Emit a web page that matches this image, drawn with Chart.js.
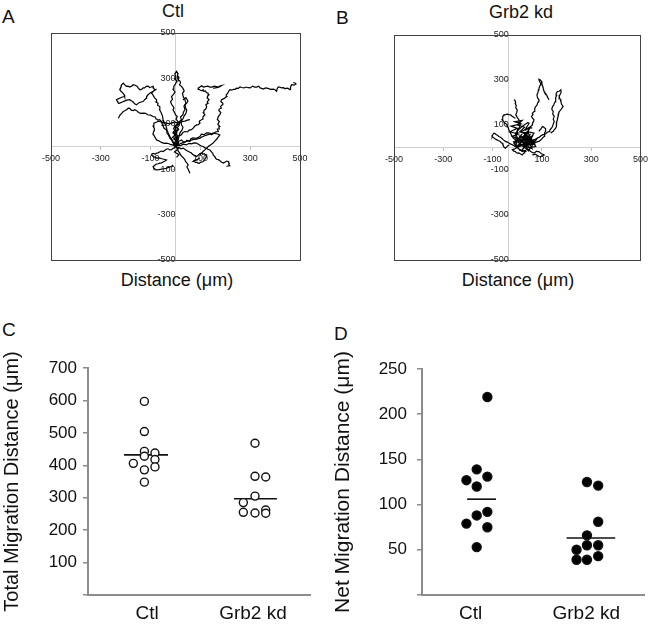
<!DOCTYPE html>
<html>
<head>
<meta charset="utf-8">
<script src="https://cdn.jsdelivr.net/npm/chart.js@4.4.1/dist/chart.umd.min.js"></script>
<style>
  body { margin: 0; width: 650px; height: 625px; overflow: hidden; background: #fff; position: relative;
         font-family: 'Liberation Sans', Arial, sans-serif; color: #111; }
  canvas { position: absolute; }
  .t { position: absolute; line-height: 1; white-space: nowrap; }
  .c { text-align: center; }
</style>
</head>
<body>
<div class="t" style="left:2px;top:7px;font-size:19px">A</div>
<div class="t c" style="left:123px;width:100px;top:2px;font-size:18px">Ctl</div>
<div class="t" style="left:336px;top:8px;font-size:19px">B</div>
<div class="t c" style="left:471px;width:100px;top:3px;font-size:18px">Grb2 kd</div>
<div class="t c" style="left:97px;width:160px;top:271px;font-size:18px">Distance (μm)</div>
<div class="t c" style="left:438px;width:160px;top:271px;font-size:18px">Distance (μm)</div>
<div class="t" style="left:2px;top:320px;font-size:19px">C</div>
<div class="t" style="left:334px;top:324px;font-size:19px">D</div>

<canvas id="chartA" width="289" height="267" style="left:31px;top:13px"></canvas>
<canvas id="chartB" width="278" height="265" style="left:374px;top:15px"></canvas>
<canvas id="chartC" width="325" height="305" style="left:0;top:320px"></canvas>
<canvas id="chartD" width="325" height="305" style="left:325px;top:320px"></canvas>

<script>
// ---- A: Ctl cell tracks (x, y in um) ----
const ctlTrack1 = [[0,0],[5,12],[14,10],[12,22],[24,29],[30,22],[40,20],[46,28],[58,22],[62,34],[70,38],[84,36],[98,44],[104,54],[115,52],[124,60],[138,59],[144,52],[150,55],[160,64],[172,66],[168,76],[176,78],[174,86],[178,88],[170,98],[176,110],[168,120],[172,132],[178,140],[182,150],[174,158],[176,165],[184,170],[181,176],[188,184],[190,190],[182,198],[185,206],[196,212],[205,220],[204,228],[210,235],[214,244],[218,250],[226,248],[232,252],[240,252],[245,257],[252,256],[259,262],[266,260],[275,258],[283,262],[292,259],[300,258],[310,266],[318,262],[326,262],[334,266],[340,258],[346,256],[352,253],[362,258],[372,256],[382,252],[393,253],[400,250],[406,243],[408,254],[412,262],[419,262],[426,258],[434,259],[440,254],[446,257],[452,256],[460,250],[462,262],[466,272],[476,270],[484,276],[480,280],[473,282]];
const ctlTrack2 = [[0,0],[8,10],[2,20],[10,30],[6,44],[16,48],[24,52],[30,62],[38,66],[48,64],[55,72],[64,74],[71,81],[78,90],[85,95],[92,96],[98,103],[96,112],[108,120],[110,130],[118,140],[112,148],[114,158],[122,166],[125,176],[122,184],[130,190],[128,198],[135,206],[130,212],[128,220],[134,228],[131,235],[124,238],[120,245],[114,244],[111,250],[104,246],[100,248],[94,252],[91,257],[98,262],[105,268],[112,262],[120,264],[130,266],[138,262],[146,262],[155,266],[164,264],[172,262],[178,266],[185,268],[176,262],[170,260],[160,258],[151,257]];
const ctlTrack3 = [[0,0],[-6,10],[-2,20],[6,30],[4,44],[-4,52],[-8,66],[2,74],[-3,88],[6,96],[10,110],[2,120],[7,132],[0,140],[-4,150],[-10,162],[-6,170],[-9,176],[-16,186],[-20,198],[-12,208],[-16,220],[-8,230],[-2,240],[-10,252],[-7,265],[0,276],[5,288],[-2,298],[1,309],[-3,320],[4,331],[10,322],[8,312],[14,304],[11,294],[18,288],[20,280],[16,272],[24,265],[30,256],[35,245],[28,234],[31,220],[38,206],[42,190],[34,178],[38,162],[32,152],[30,140],[20,130],[24,118],[14,108],[16,95],[8,84],[11,73],[2,62],[-2,50],[6,40],[4,29],[-4,16],[2,6]];
const ctlTrack4 = [[0,0],[-8,12],[-16,29],[-22,36],[-28,50],[-34,58],[-36,73],[-46,80],[-52,95],[-56,108],[-63,118],[-70,116],[-78,122],[-82,130],[-90,132],[-100,138],[-112,140],[-120,146],[-130,147],[-140,146],[-148,150],[-156,158],[-163,162],[-170,158],[-178,160],[-184,168],[-190,169],[-196,162],[-200,160],[-206,156],[-210,154],[-216,146],[-222,140],[-226,132],[-230,125]];
const ctlTrack5 = [[0,0],[-6,14],[-14,30],[-22,42],[-29,59],[-34,72],[-38,90],[-44,104],[-50,118],[-52,134],[-58,150],[-64,162],[-63,176],[-72,182],[-70,190],[-78,196],[-76,206],[-84,214],[-88,222],[-92,230],[-96,235],[-90,242],[-84,250],[-88,258],[-90,265],[-98,262],[-104,260],[-110,266],[-117,265],[-124,258],[-130,258],[-136,252],[-143,250],[-150,258],[-155,266],[-162,270],[-170,272],[-176,266],[-185,262],[-190,266],[-197,265],[-204,272],[-210,279],[-216,272],[-218,265],[-222,256],[-224,250],[-218,242],[-212,236],[-206,228],[-204,220],[-214,218],[-222,214],[-230,210],[-237,206],[-234,200],[-232,196],[-228,190],[-224,191],[-214,196],[-205,200],[-196,204],[-184,206],[-176,200],[-170,196],[-164,188],[-157,184],[-150,190],[-145,194],[-138,196],[-130,198],[-124,206],[-118,212],[-116,220],[-110,228],[-102,236],[-95,240],[-86,246],[-76,253]];
const ctlTrack6 = [[0,0],[-4,-6],[-10,-8],[-16,-14],[-23,-15],[-30,-10],[-38,-12],[-44,-18],[-50,-22],[-58,-20],[-64,-24],[-70,-28],[-76,-29],[-82,-34],[-88,-30],[-94,-32],[-96,-37],[-92,-42],[-86,-46],[-80,-48],[-76,-51],[-66,-50],[-55,-54],[-46,-56],[-36,-59],[-42,-64],[-50,-68],[-56,-72],[-63,-73],[-70,-76],[-78,-78],[-84,-84],[-90,-88],[-88,-94],[-84,-98],[-80,-102],[-76,-103],[-66,-102],[-56,-100],[-46,-98],[-36,-96],[-28,-92],[-22,-90],[-14,-86],[-9,-81]];
const ctlTrack7 = [[0,0],[6,-6],[8,-14],[12,-22],[17,-29],[20,-36],[24,-42],[32,-50],[38,-59],[40,-66],[44,-70],[48,-76],[51,-81],[46,-90],[50,-98],[54,-108],[58,-118]];
const ctlTrack8 = [[0,0],[10,6],[20,4],[32,10],[44,7],[54,14],[64,12],[74,16],[84,15],[92,10],[98,6],[104,2],[111,0],[118,-6],[125,-8],[130,-12],[138,-15],[142,-20],[146,-26],[150,-30],[151,-37],[156,-42],[158,-46],[162,-52],[165,-56],[172,-58],[178,-62],[184,-68],[192,-73],[196,-70],[200,-68],[206,-64],[212,-66],[214,-72],[216,-76],[214,-80],[218,-85],[210,-86],[205,-88]];
const ctlTrack9 = [[0,0],[6,-6],[14,-4],[22,-10],[31,-7],[40,-14],[48,-20],[56,-24],[64,-29],[68,-34],[74,-38],[80,-42],[84,-44],[90,-40],[95,-34],[100,-30],[105,-29],[110,-34],[116,-32],[120,-36],[125,-37],[124,-46],[120,-52],[116,-60],[111,-66],[106,-68],[100,-70],[96,-74],[91,-73],[86,-70],[80,-70],[76,-66],[71,-66],[78,-60],[86,-58],[92,-54],[98,-51]];
const ctlTrack10 = [[0,0],[-8,6],[-18,8],[-26,12],[-36,15],[-46,14],[-56,18],[-66,24],[-76,29],[-80,36],[-84,44],[-88,52],[-90,59],[-86,70],[-85,80],[-90,90],[-87,103],[-80,106],[-75,108],[-70,112],[-63,110],[-52,106],[-42,104],[-32,102],[-23,100],[-14,104],[-4,108],[6,104],[17,106],[28,110],[38,112],[48,116],[58,118]];
const ctlTrack11 = [[0,0],[12,8],[22,14],[34,18],[44,22],[56,26],[70,30],[84,32],[98,37],[110,44],[124,50],[138,54],[151,59],[158,58],[165,56],[172,54],[178,51],[172,42],[165,32],[158,24],[151,15],[142,8],[134,2],[126,-6],[118,-15],[112,-20],[108,-26],[102,-32],[98,-37]];
const ctlTrack12 = [[0,0],[4,14],[10,30],[14,44],[18,60],[26,72],[30,85],[24,96],[22,110],[30,122],[35,135],[42,146],[45,160],[40,172],[38,185],[46,192],[50,200],[46,208],[42,215],[36,210],[30,205]];
const ctlTrack13 = [[0,0],[10,20],[-6,32],[8,50],[-10,60],[12,76],[-4,90],[14,100],[-8,80],[6,60],[-12,40],[10,24],[-6,8],[12,-10],[-4,-24],[14,-36],[4,-48]];

// ---- B: Grb2 kd cell tracks ----
const kdTrack1 = [[0,0],[6,10],[10,20],[16,26],[20,34],[24,42],[28,50],[30,58],[34,64],[42,70],[46,78],[50,86],[54,93],[60,100],[62,108],[66,116],[68,123],[62,130],[58,138],[64,146],[61,152],[68,160],[70,166],[72,174],[75,182],[80,188],[82,196],[86,204],[88,212],[82,222],[80,234],[84,244],[86,256],[88,262],[90,270],[94,278],[95,286],[90,294],[88,303],[94,300],[99,293],[100,282],[104,270],[106,260],[109,249],[112,242],[116,238],[120,232],[122,226],[126,218],[129,212]];
const kdTrack2 = [[0,0],[8,6],[18,10],[26,16],[34,19],[44,24],[55,26],[64,32],[75,34],[82,42],[90,46],[96,52],[102,56],[110,58],[116,62],[122,68],[129,71],[132,78],[136,82],[140,88],[143,93],[146,104],[150,116],[146,126],[150,138],[144,148],[146,160],[140,170],[143,182],[148,188],[150,196],[154,204],[156,212],[156,222],[160,232],[158,240],[163,249],[170,250],[177,256],[178,248],[176,240],[172,232],[170,226],[174,214],[177,204],[180,192],[186,182],[182,176],[178,170],[174,164],[170,160],[168,150],[166,140],[164,132],[163,123],[160,114],[160,104],[158,94],[156,86],[150,78],[146,72],[140,68],[136,64]];
const kdTrack3 = [[0,0],[6,8],[10,16],[4,24],[7,34],[0,44],[-4,56],[2,66],[0,78],[8,88],[12,100],[6,110],[7,123],[0,134],[-6,146],[-2,156],[0,167],[-6,176],[-4,186],[-8,196],[-7,204],[-10,210],[-14,212]];
const kdTrack4 = [[0,0],[-6,10],[-12,18],[-8,26],[-7,34],[-14,40],[-20,48],[-24,56],[-27,64],[-32,72],[-35,82],[-38,92],[-41,101],[-46,106],[-52,110],[-56,118],[-61,123],[-58,130],[-60,138],[-56,142],[-54,145],[-48,146],[-40,148],[-34,146],[-27,145],[-22,140],[-16,136],[-12,132],[-7,130]];
const kdTrack5 = [[0,0],[-10,6],[-20,12],[-28,16],[-34,20],[-40,24],[-48,27],[-56,34],[-62,40],[-68,46],[-75,49],[-80,54],[-86,58],[-90,62],[-95,64],[-100,56],[-102,49],[-96,44],[-92,40],[-86,36],[-82,34],[-76,30],[-70,28],[-66,22],[-61,19],[-58,12],[-56,6],[-52,0],[-48,-3],[-44,2],[-40,6],[-36,10],[-34,12]];
const kdTrack6 = [[0,0],[6,-6],[10,-12],[16,-14],[20,-18],[28,-14],[34,-12],[40,-8],[48,-10],[52,-16],[58,-20],[62,-22],[68,-25],[74,-20],[78,-16],[82,-18],[88,-18],[94,-24],[98,-28],[104,-30],[109,-33],[104,-36],[98,-38],[94,-42],[88,-40],[80,-34],[74,-30],[68,-32],[61,-33]];
const kdTrack7 = [[0,0],[8,6],[16,8],[26,4],[34,4],[40,10],[48,14],[54,16],[61,19],[68,18],[75,22],[82,26],[88,27],[94,32],[100,38],[104,44],[109,49],[110,56],[112,64],[114,72],[116,78],[114,84],[110,88],[106,92],[102,93],[98,86],[94,80],[90,76],[88,71]];
const kdTrack8 = [[0,0],[27,41],[48,12],[14,27],[61,49],[34,-3],[75,4],[41,71],[68,64],[20,-10],[55,30],[10,50],[45,-15],[80,40],[25,15],[60,-5],[30,60],[70,25],[5,10],[50,55],[35,20]];
const kdTrack9 = [[0,0],[-4,30],[-7,64],[0,72],[6,80],[14,88],[20,93],[28,100],[34,104],[42,110],[48,108],[44,100],[40,94],[36,86],[34,78],[40,82],[48,84],[54,88],[61,86]];
const kdTrack10 = [[0,0],[-10,-6],[-20,-10],[-14,-16],[-8,-18],[-4,-22],[0,-25],[6,-24],[12,-28],[16,-30],[20,-33],[24,-28],[28,-24],[30,-20],[34,-18],[26,-14],[20,-12],[14,-10],[7,-7]];
const kdTrack11 = [[0,0],[30,20],[5,40],[40,55],[15,70],[50,90],[25,10],[70,15],[45,45],[-10,20],[20,60]];
const kdTrack12 = [[0,0],[-15,25],[10,35],[-20,50],[5,60],[-30,70],[0,85],[-25,95],[15,105],[-10,115],[20,120],[0,100],[30,90],[10,70],[40,65],[20,45],[50,40],[30,20]];

// ---- C / D: per-cell distances ----
const groups = ['Ctl', 'Grb2 kd'];
// x = group position (1 or 2) with the small side offset seen in the plot
const ctlTotalX = [0.975, 0.975, 0.975, 1.075, 0.975, 0.871, 1.075, 0.975, 1.075, 0.975];
const ctlTotal  = [597, 504, 443, 438, 428, 406, 418, 386, 395, 348];
const kdTotalX  = [2.019, 2.019, 2.12, 2.019, 1.909, 1.909, 2.019, 2.12, 2.12];
const kdTotal   = [468, 366, 364, 305, 285, 255, 253, 262, 252];
const totalMeans = [432, 297];

const ctlNetX = [1.145, 1.053, 0.964, 1.145, 1.053, 1.145, 1.053, 0.964, 1.145, 1.053];
const ctlNet  = [219, 139, 127, 131, 120, 92, 88, 79, 75, 53];
const kdNetX  = [2.006, 2.103, 2.103, 2.006, 1.916, 2.006, 2.103, 1.916, 2.006, 2.103];
const kdNet   = [125, 121, 81, 66, 50, 55, 55, 39, 39, 43];
const netMeans = [106, 63];

Chart.defaults.font.family = "'Liberation Sans', Arial, sans-serif";
Chart.defaults.color = '#111';

const boxPlugin = {
  id: 'box',
  afterDraw(chart) {
    const { ctx, chartArea: a } = chart;
    ctx.save();
    ctx.strokeStyle = '#444';
    ctx.lineWidth = 1;
    ctx.strokeRect(Math.round(a.left) + 0.5, Math.round(a.top) + 0.5, Math.round(a.width), Math.round(a.height));
    ctx.restore();
  }
};

const pts = arr => arr.map(([x, y]) => ({ x, y }));

function trackChart(id, tracks, yCross, pad) {
  new Chart(document.getElementById(id), {
    type: 'scatter',
    data: {
      datasets: tracks.map(t => ({
        data: pts(t), showLine: true, pointRadius: 0,
        borderColor: '#000', borderWidth: 1.2, tension: 0
      }))
    },
    options: {
      responsive: false, animation: false, events: [],
      layout: { padding: pad },
      plugins: { legend: { display: false }, tooltip: { enabled: false } },
      scales: {
        x: {
          type: 'linear', position: { y: 0 }, min: -500, max: 500,
          ticks: { stepSize: 200, font: { size: 9 }, color: '#222', padding: 4, maxRotation: 0, autoSkip: false },
          grid: { drawOnChartArea: false, tickLength: 3, color: '#bbb' },
          border: { color: '#cfcfcf' }
        },
        y: {
          type: 'linear', position: { x: yCross }, min: -500, max: 500,
          ticks: { stepSize: 200, font: { size: 9 }, color: '#222', padding: 3, autoSkip: false },
          grid: { drawOnChartArea: false, tickLength: 3, color: '#bbb' },
          border: { color: '#cfcfcf' }
        }
      }
    },
    plugins: [boxPlugin]
  });
}

trackChart('chartA',
  [ctlTrack1, ctlTrack2, ctlTrack3, ctlTrack4, ctlTrack5, ctlTrack6, ctlTrack7, ctlTrack8, ctlTrack9, ctlTrack10, ctlTrack11, ctlTrack12, ctlTrack13],
  0, { left: 20, right: 20, top: 20, bottom: 20 });
trackChart('chartB',
  [kdTrack1, kdTrack2, kdTrack3, kdTrack4, kdTrack5, kdTrack6, kdTrack7, kdTrack8, kdTrack9, kdTrack10, kdTrack11, kdTrack12],
  -34, { left: 20, right: 10, top: 20, bottom: 20 });

const axisGray = '#8c8c8c';

function dotChart(id, cfg) {
  const xy = (xs, ys) => xs.map((x, i) => ({ x, y: ys[i] }));
  const meanLine = (m, from, to) => ({
    data: [{ x: from, y: m }, { x: to, y: m }], showLine: true, pointRadius: 0,
    borderColor: '#111', borderWidth: 1.6
  });
  new Chart(document.getElementById(id), {
    type: 'scatter',
    data: {
      datasets: [
        { data: xy(cfg.x1, cfg.y1), pointRadius: cfg.r, borderWidth: 1.4, borderColor: '#111', backgroundColor: cfg.fill },
        { data: xy(cfg.x2, cfg.y2), pointRadius: cfg.r, borderWidth: 1.4, borderColor: '#111', backgroundColor: cfg.fill },
        meanLine(cfg.means[0], cfg.spans[0][0], cfg.spans[0][1]),
        meanLine(cfg.means[1], cfg.spans[1][0], cfg.spans[1][1])
      ]
    },
    options: {
      responsive: false, animation: false, events: [],
      layout: { padding: cfg.pad },
      plugins: { legend: { display: false }, tooltip: { enabled: false } },
      scales: {
        x: {
          type: 'linear', min: cfg.xMin, max: cfg.xMax,
          afterBuildTicks: s => { s.ticks = [{ value: 1 }, { value: 2 }]; },
          ticks: { callback: v => groups[Math.round(v) - 1], font: { size: 19 }, color: '#111', padding: 7, autoSkip: false, maxRotation: 0 },
          grid: { display: false, drawTicks: false },
          border: { color: axisGray, width: 2 },
          afterFit: s => { s.height = 30; }
        },
        y: {
          min: 0, max: cfg.yMax,
          ticks: { stepSize: cfg.step, callback: v => (v === 0 ? '' : v), font: { size: 17 }, color: '#111', padding: cfg.tickPad },
          grid: { drawOnChartArea: false, tickLength: 5, color: axisGray, lineWidth: 1.5 },
          border: { color: axisGray, width: 2 },
          title: { display: true, text: cfg.title, font: { size: cfg.titleSize }, color: '#111', padding: { top: cfg.titlePad, bottom: 0 } },
          afterFit: s => { s.width = cfg.yWidth; }
        }
      }
    }
  });
}

dotChart('chartC', {
  x1: ctlTotalX, y1: ctlTotal, x2: kdTotalX, y2: kdTotal, means: totalMeans,
  spans: [[0.783, 1.198], [1.821, 2.226]],
  r: 4, fill: '#fff', xMin: 0.443, xMax: 2.538, yMax: 700, step: 100,
  title: 'Total Migration Distance (μm)', titleSize: 20, titlePad: 0, tickPad: 6, yWidth: 88,
  pad: { left: 0, right: 15, top: 48, bottom: 0 }
});
dotChart('chartD', {
  x1: ctlNetX, y1: ctlNet, x2: kdNetX, y2: kdNet, means: netMeans,
  spans: [[0.97, 1.22], [1.83, 2.25]],
  r: 4.5, fill: '#000', xMin: 0.58, xMax: 2.5, yMax: 250, step: 50,
  title: 'Net Migration Distance (μm)', titleSize: 21, titlePad: 6, tickPad: 10, yWidth: 97,
  pad: { left: 0, right: 0, top: 49, bottom: 0 }
});
</script>
</body>
</html>
